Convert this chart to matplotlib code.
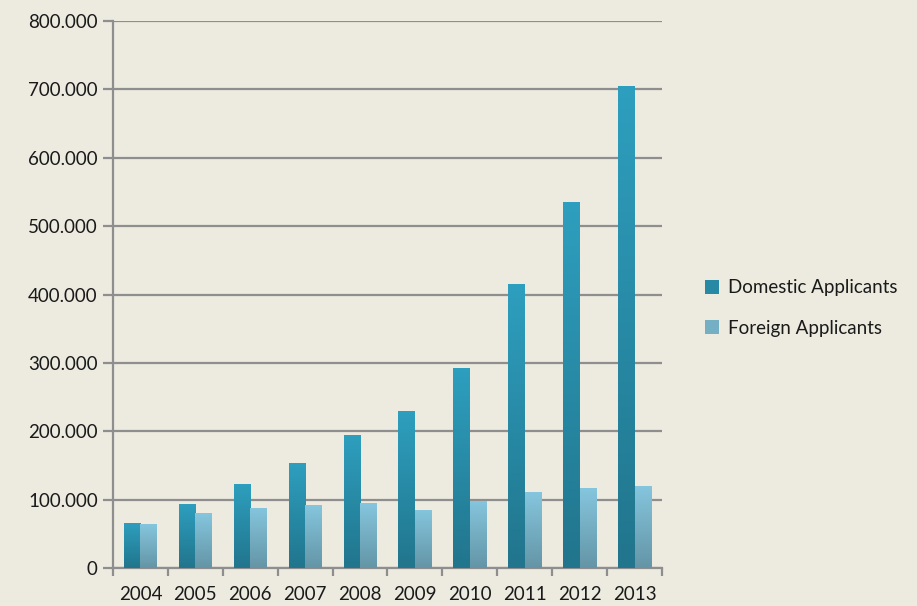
import matplotlib
matplotlib.use("Agg")
import matplotlib.pyplot as plt
import numpy as np
from matplotlib.ticker import FuncFormatter, FixedLocator

years = ["2004", "2005", "2006", "2007", "2008", "2009", "2010", "2011", "2012", "2013"]
domestic = [66000, 94000, 123000, 153000, 195000, 230000, 293000, 415000, 535000, 705000]
foreign = [64000, 80000, 88000, 92000, 95000, 85000, 98000, 111000, 117000, 120000]

BG = "#EDEBE0"
GRID = "#8E8E8E"

plt.rcParams["font.family"] = ["Lato", "DejaVu Sans"]

fig = plt.figure(figsize=(9.17, 6.06), dpi=100, facecolor=BG)
ax = fig.add_axes([113 / 917, 1 - 568 / 606, 549 / 917, 547 / 606], facecolor=BG)

x = np.arange(len(years))
w = 0.3


def gradient_bars(bars, top, bottom):
    grad = np.linspace(0, 1, 256).reshape(-1, 1)
    cmap = matplotlib.colors.LinearSegmentedColormap.from_list("g", [bottom, top])
    for b in bars:
        b.set_facecolor("none")
        x0, y0 = b.get_x(), b.get_y()
        im = ax.imshow(grad, cmap=cmap, origin="lower", aspect="auto",
                       extent=(x0, x0 + b.get_width(), y0, y0 + b.get_height()),
                       zorder=3)
        im.set_clip_path(b)


dom_bars = ax.bar(x - w / 2, domestic, w, zorder=3, linewidth=0,
                  label="Domestic Applicants")
for_bars = ax.bar(x + w / 2, foreign, w, zorder=3, linewidth=0,
                  label="Foreign Applicants")
gradient_bars(dom_bars, "#2E9FBF", "#21758C")
gradient_bars(for_bars, "#85C6DE", "#6495A6")

ax.set_xlim(-0.5, len(years) - 0.5)
ax.set_ylim(0, 800000)

ax.yaxis.set_major_locator(FixedLocator(np.arange(0, 800001, 100000)))
ax.yaxis.set_major_formatter(FuncFormatter(
    lambda v, p: "0" if v == 0 else f"{v:,.0f}".replace(",", ".")))
ax.grid(axis="y", color=GRID, linewidth=1.6, zorder=1)
ax.set_axisbelow(True)

ax.set_xticks(x)
ax.set_xticklabels(years)
ax.set_xticks(np.arange(-0.5, len(years)), minor=True)
ax.tick_params(axis="x", which="major", length=0, pad=13, labelsize=13.5,
               colors="#1a1a1a")
ax.tick_params(axis="x", which="minor", length=6, width=1.6, color=GRID)
ax.tick_params(axis="y", length=7, width=1.6, color=GRID, labelsize=13.5,
               colors="#1a1a1a", pad=4)
ax.tick_params(axis="y", colors=GRID, labelcolor="#1a1a1a")

for s in ["top", "right"]:
    ax.spines[s].set_visible(False)
for s in ["left", "bottom"]:
    ax.spines[s].set_color(GRID)
    ax.spines[s].set_linewidth(1.6)

handles = [plt.Rectangle((0, 0), 1, 1, facecolor="#2889A5"),
           plt.Rectangle((0, 0), 1, 1, facecolor="#75AFC4")]
leg = fig.legend(handles, ["Domestic Applicants", "Foreign Applicants"],
                 loc="center left", bbox_to_anchor=(688 / 917, 1 - 308 / 606),
                 frameon=False, fontsize=13.5, handlelength=0.75,
                 handleheight=0.75, handletextpad=0.5, labelspacing=1.25)
for t in leg.get_texts():
    t.set_color("#1a1a1a")

fig.savefig("out.png", dpi=100, facecolor=BG)
